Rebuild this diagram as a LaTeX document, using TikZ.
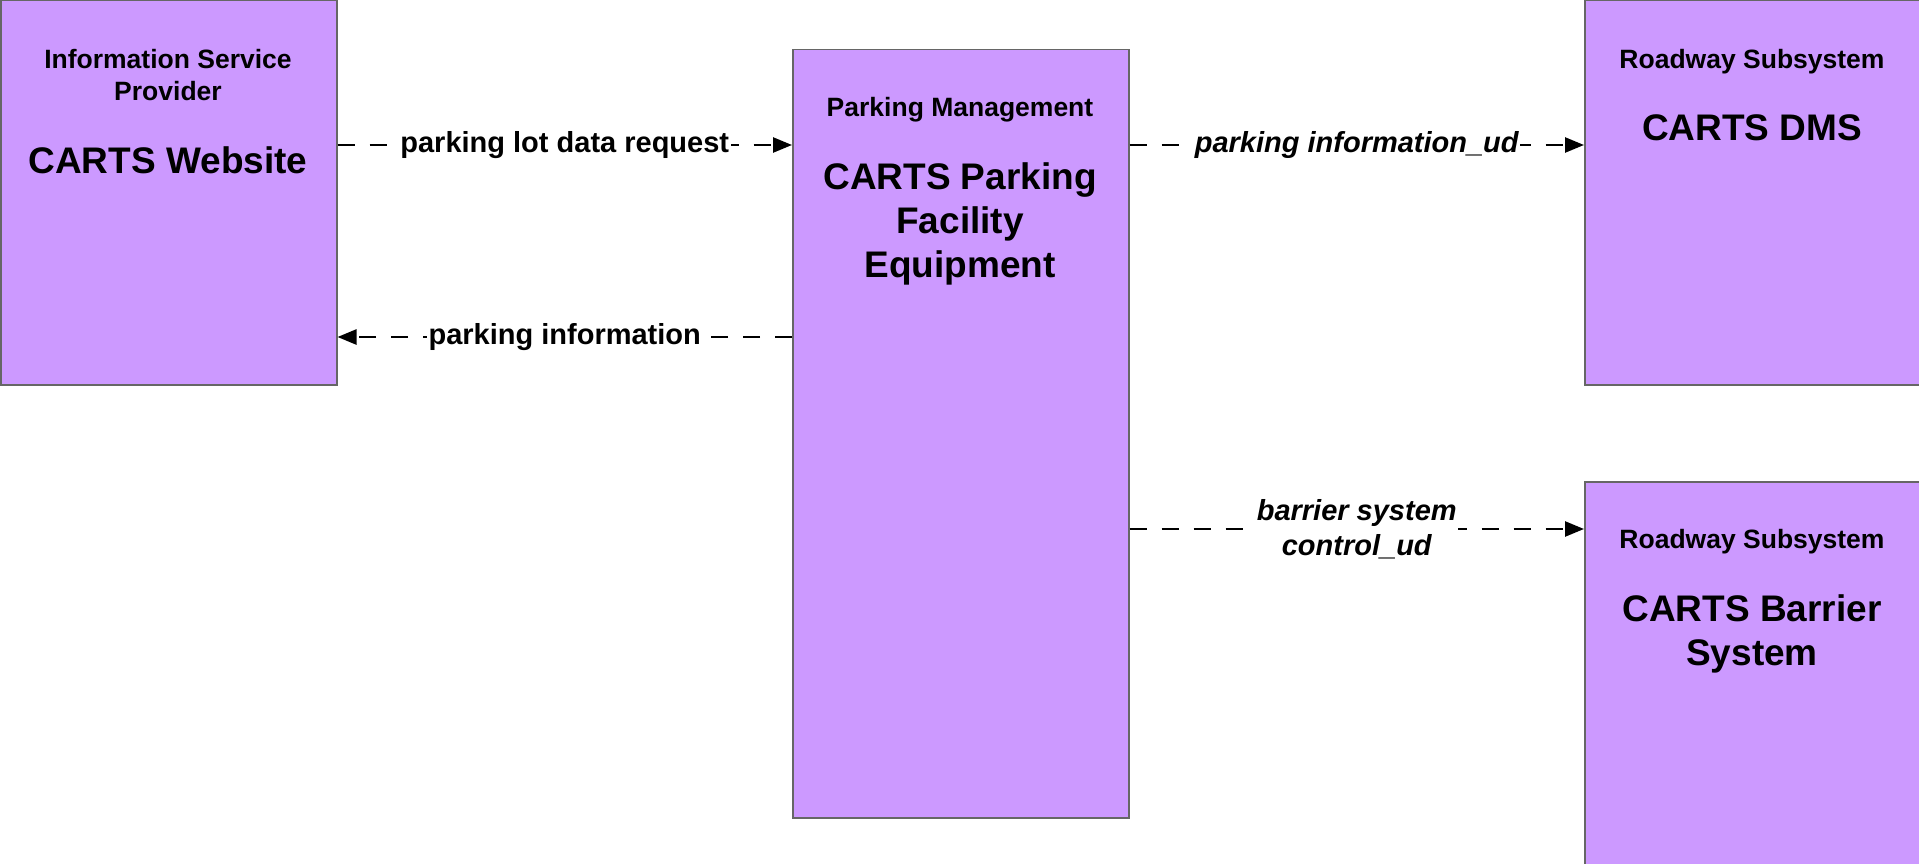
\documentclass[tikz,border=0pt]{standalone}
\usepackage{fontspec}
\setmainfont{Liberation Sans}
\usetikzlibrary{arrows.meta}
\definecolor{boxfill}{HTML}{CC99FF}
\definecolor{boxline}{HTML}{666666}
\begin{document}
\begin{tikzpicture}[x=1pt,y=-1pt,
  sysbox/.style={draw=boxline, line width=1.5pt, fill=boxfill, anchor=north west, inner sep=0pt},
  hdr/.style={font=\fontsize{26.5}{32}\selectfont\bfseries, align=center, inner sep=0pt},
  ttl/.style={font=\fontsize{37}{44}\selectfont\bfseries, align=center, inner sep=0pt},
  flow/.style={draw, line width=2.5pt, dash pattern=on 17pt off 15pt, -{Triangle[length=19pt,width=15pt]}},
  flowlbl/.style={font=\fontsize{29}{35}\selectfont\bfseries, fill=white, inner sep=1.5pt, align=center},
  flowlbli/.style={flowlbl, font=\fontsize{29}{35}\selectfont\bfseries\itshape}]
\useasboundingbox (0,0) rectangle (1919,864);

% boxes
\node[sysbox, minimum width=336pt, minimum height=384pt] (isp) at (0,0) {};
\node[sysbox, minimum width=336pt, minimum height=768pt] (pm) at (792,49) {};
\node[sysbox, minimum width=336pt, minimum height=384pt] (dms) at (1584,0) {};
\node[sysbox, minimum width=336pt, minimum height=420pt] (bar) at (1584,481) {};

% box texts
\node[hdr] (ispH) at (168,75) {Information Service\\Provider};
\node[ttl] (ispT) at (168,160) {CARTS Website};
\node[hdr] (pmH) at (960,110) {Parking Management};
\node[ttl] (pmT) at (960,224) {CARTS Parking\\Facility\\Equipment};
\node[hdr] (dmsH) at (1752,62) {Roadway Subsystem};
\node[ttl] (dmsT) at (1752,128) {CARTS DMS};
\node[hdr] (barH) at (1752,542) {Roadway Subsystem};
\node[ttl] (barT) at (1752,634) {CARTS Barrier\\System};

% flows
\draw[flow] (isp.east |- 0,145) -- node[flowlbl] (f1) {parking lot data request} (pm.west |- 0,145);
\draw[flow] (pm.west |- 0,337) -- node[flowlbl] (f2) {parking information} (isp.east |- 0,337);
\draw[flow] (pm.east |- 0,145) -- node[flowlbli] (f3) {parking information\_ud} (dms.west |- 0,145);
\draw[flow] (pm.east |- 0,529) -- node[flowlbli] (f4) {barrier system\\control\_ud} (bar.west |- 0,529);
\end{tikzpicture}
\end{document}
